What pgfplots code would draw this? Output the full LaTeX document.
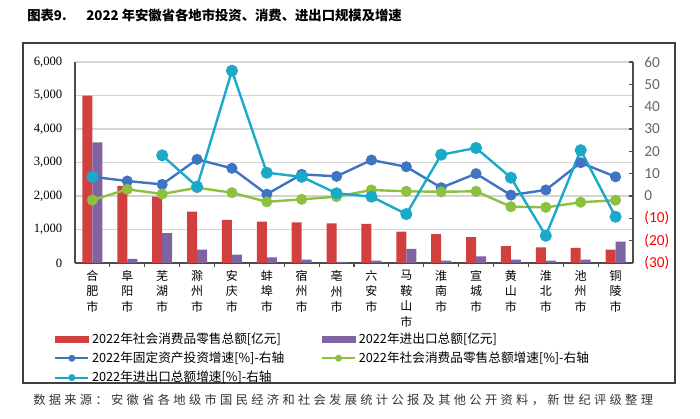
\documentclass[border=0pt]{standalone}
\usepackage{pgfplots}
\pgfplotsset{compat=1.18}
\usepackage{fontspec}
\setmainfont{Liberation Serif}
\newfontfamily\cjk{Noto Sans CJK SC}
\newfontfamily\cjksp[LetterSpace=27]{Noto Sans CJK SC}
\newfontfamily\carl{Carlito}
\definecolor{cred}{HTML}{D23F3F}
\definecolor{cpurple}{HTML}{8064A2}
\definecolor{cblue}{HTML}{3F74C4}
\definecolor{cgreen}{HTML}{8DC03F}
\definecolor{ccyan}{HTML}{1AAAC8}
\begin{document}
\begin{tikzpicture}[x=0.75pt,y=0.75pt]
\useasboundingbox (0,0) rectangle (700,418);
\draw[black!75, line width=0.8pt] (23,35) rectangle (675,375);
\node[anchor=west, inner sep=0] at (27,403) {\cjk\bfseries\fontsize{10}{12}\selectfont 图表9.};
\node[anchor=west, inner sep=0] at (86,403) {\cjk\bfseries\fontsize{10}{12}\selectfont 2022 年安徽省各地市投资、消费、进出口规模及增速};
\node[anchor=west, inner sep=0, text=black!80] at (33,18) {\cjksp\fontsize{9.2}{11}\selectfont 数据来源：安徽省各地级市国民经济和社会发展统计公报及其他公开资料，新世纪评级整理};

\begin{axis}[
  at={(56.25pt,116.25pt)}, anchor=south west, scale only axis,
  width=418.5pt, height=150.75pt,
  xmin=-0.5, xmax=15.5, ymin=0, ymax=6000,
  axis x line*=bottom, axis y line*=left,
  axis line style={black!70, line width=0.8pt, -},
  ybar=0pt, bar width=7.5pt,
  ymajorgrids, grid style={draw=black!17, line width=1.2pt},
  ytick={0,1000,...,6000},
  xtick={0,...,15},
  xticklabels={{合\\肥\\市},{阜\\阳\\市},{芜\\湖\\市},{滁\\州\\市},{安\\庆\\市},{蚌\\埠\\市},{宿\\州\\市},{亳\\州\\市},{六\\安\\市},{马\\鞍\\山\\市},{淮\\南\\市},{宣\\城\\市},{黄\\山\\市},{淮\\北\\市},{池\\州\\市},{铜\\陵\\市}},
  xticklabel style={align=center, anchor=north, font=\cjk\fontsize{9}{11.6}\selectfont, yshift=-2pt},
  minor xtick={0.5,1.5,...,14.5},
  major tick length=0pt, minor tick length=3pt,
  tick style={black!70, line width=0.8pt},
  /pgf/number format/assume math mode=true,
  yticklabel style={font=\fontsize{9.5}{11}\selectfont, /pgf/number format/1000 sep={,}, xshift=-6pt},
]
\addplot[fill=cred, draw=none] coordinates {(0,5000) (1,2300) (2,1980) (3,1530) (4,1285) (5,1235) (6,1215) (7,1185) (8,1165) (9,935) (10,865) (11,770) (12,500) (13,470) (14,450) (15,400)};
\addplot[fill=cpurple, draw=none] coordinates {(0,3600) (1,120) (2,895) (3,400) (4,250) (5,170) (6,100) (7,30) (8,70) (9,420) (10,70) (11,200) (12,100) (13,70) (14,100) (15,636)};
\end{axis}

\begin{axis}[
  at={(56.25pt,116.25pt)}, anchor=south west, scale only axis,
  width=418.5pt, height=150.75pt,
  xmin=-0.5, xmax=15.5, ymin=-30, ymax=60,
  axis x line=none, axis y line*=right,
  axis line style={black!70, line width=0.8pt, -},
  ytick={-30,-20,...,60},
  yticklabels={\textcolor{red}{(30)},\textcolor{red}{(20)},\textcolor{red}{(10)},0,10,20,30,40,50,60},
  yticklabel style={font=\carl\fontsize{11.5}{13}\selectfont, text=black!60, xshift=5pt},
  major tick length=3pt, tick align=inside,
  tick style={black!70, line width=0.8pt},
  unbounded coords=jump,
  legend columns=2,
  legend cell align=left,
  legend style={draw=none, fill=none, at={(axis description cs:-0.045,-0.318)}, anchor=north west,
    font=\cjk\fontsize{9.5}{11}\selectfont, row sep=1pt,
    /tikz/every even column/.append style={column sep=25.5pt}},
]
\addlegendimage{legend image code/.code={\fill[cred] (0pt,-2.2pt) rectangle (25pt,2.2pt);}}
\addlegendentry{2022年社会消费品零售总额[亿元]}
\addlegendimage{legend image code/.code={\fill[cpurple] (0pt,-2.2pt) rectangle (25pt,2.2pt);}}
\addlegendentry{2022年进出口总额[亿元]}
\addlegendimage{legend image code/.code={\draw[cblue, line width=1.5pt] (0pt,0pt) -- (25pt,0pt); \fill[cblue] (12.5pt,0pt) circle (2.4pt);}}
\addlegendentry{2022年固定资产投资增速[\%]-右轴}
\addlegendimage{legend image code/.code={\draw[cgreen, line width=1.5pt] (0pt,0pt) -- (25pt,0pt); \fill[cgreen] (12.5pt,0pt) circle (2.4pt);}}
\addlegendentry{2022年社会消费品零售总额增速[\%]-右轴}
\addlegendimage{legend image code/.code={\draw[ccyan, line width=1.5pt] (0pt,0pt) -- (25pt,0pt); \fill[ccyan] (12.5pt,0pt) circle (2.4pt);}}
\addlegendentry{2022年进出口总额增速[\%]-右轴}

\addplot[forget plot, cblue, line width=1.8pt, mark=*, mark size=3.2pt] coordinates {(0,8.6) (1,6.7) (2,5.2) (3,16.4) (4,12.4) (5,0.8) (6,9.7) (7,8.8) (8,16.1) (9,13.1) (10,3.7) (11,10.0) (12,0.4) (13,2.7) (14,14.9) (15,8.6)};
\addplot[forget plot, cgreen, line width=1.8pt, mark=*, mark size=3.2pt] coordinates {(0,-1.8) (1,3.0) (2,0.9) (3,3.7) (4,1.5) (5,-2.6) (6,-1.5) (7,-0.3) (8,2.7) (9,2.1) (10,1.9) (11,2.1) (12,-4.8) (13,-5.1) (14,-2.8) (15,-1.9)};
\addplot[forget plot, ccyan, line width=1.8pt, mark=*, mark size=3.6pt] coordinates {(0,8.6) (1,nan) (2,18.2) (3,4.2) (4,56.1) (5,10.4) (6,8.6) (7,1.2) (8,-0.3) (9,-8.1) (10,18.5) (11,21.5) (12,8.2) (13,-17.8) (14,20.5) (15,-9.3)};
\end{axis}
\end{tikzpicture}
\end{document}
